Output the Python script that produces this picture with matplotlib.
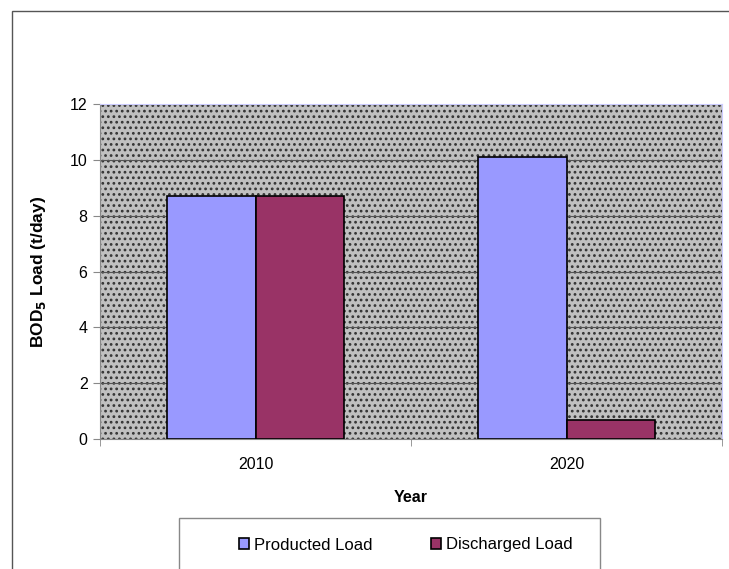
import matplotlib
matplotlib.use('Agg')
import matplotlib.pyplot as plt
from matplotlib.patches import Rectangle
import numpy as np

plt.rcParams['font.family'] = ['Liberation Sans', 'DejaVu Sans']
plt.rcParams['hatch.linewidth'] = 1.2

years = ['2010', '2020']
producted = [8.7, 10.1]
discharged = [8.7, 0.68]

fig = plt.figure(figsize=(7.29, 5.69), dpi=100)
W, H = 729, 569

# outer chart frame (runs off the image to the right and bottom)
fig.patches.append(Rectangle((12 / W, -0.1), 1.2, 1 - 11 / H + 0.1, transform=fig.transFigure,
                             fill=False, edgecolor='#555555', linewidth=1.0))

ax = fig.add_axes([100 / W, 1 - 439 / H, 622 / W, 335 / H])
ax.set_facecolor('#c0c0c0')
ax.add_patch(Rectangle((0, 0), 1, 1, transform=ax.transAxes, facecolor='none',
                       edgecolor='#333333', hatch='...', linewidth=0, zorder=0))

x = np.arange(len(years))
w = 0.285
ax.bar(x - w / 2, producted, w, color='#9999ff', edgecolor='black', linewidth=1.2,
       label='Producted Load', zorder=3)
ax.bar(x + w / 2, discharged, w, color='#993366', edgecolor='black', linewidth=1.2,
       label='Discharged Load', zorder=3)

ax.set_xlim(-0.5, 1.5)
ax.set_ylim(0, 12)
ax.set_yticks(range(0, 13, 2))
ax.yaxis.grid(True, color='#555555', linewidth=0.8, zorder=1)
ax.set_axisbelow(True)

ax.set_xticks(x)
ax.set_xticklabels(years)
ax.set_xticks([-0.5, 0.5, 1.5], minor=True)
ax.tick_params(axis='x', which='major', length=0, labelsize=11.5, pad=13)
ax.tick_params(axis='x', which='minor', length=5, color='#888888')
ax.tick_params(axis='y', length=5, labelsize=11.5, color='#888888', pad=4)

for s in ['top', 'right']:
    ax.spines[s].set_color('#ccccff')
for s in ['left', 'bottom']:
    ax.spines[s].set_color('#888888')

ax.set_xlabel('Year', fontweight='bold', fontsize=11.5, labelpad=13)
ax.set_ylabel('BOD$_\\mathbf{5}$ Load (t/day)', fontweight='bold', fontsize=12.5, labelpad=16)

# legend box
fig.patches.append(Rectangle((179 / W, -0.1), 421 / W, 0.1 + (569 - 518) / H,
                             transform=fig.transFigure, fill=False,
                             edgecolor='#888888', linewidth=1.0))
fig.legend(loc='center', bbox_to_anchor=(406 / W, 1 - 545 / H), ncol=2, frameon=False,
           fontsize=12, handlelength=0.6, handleheight=0.6, handletextpad=0.3,
           columnspacing=3.5)

fig.savefig('out.png', dpi=100)
